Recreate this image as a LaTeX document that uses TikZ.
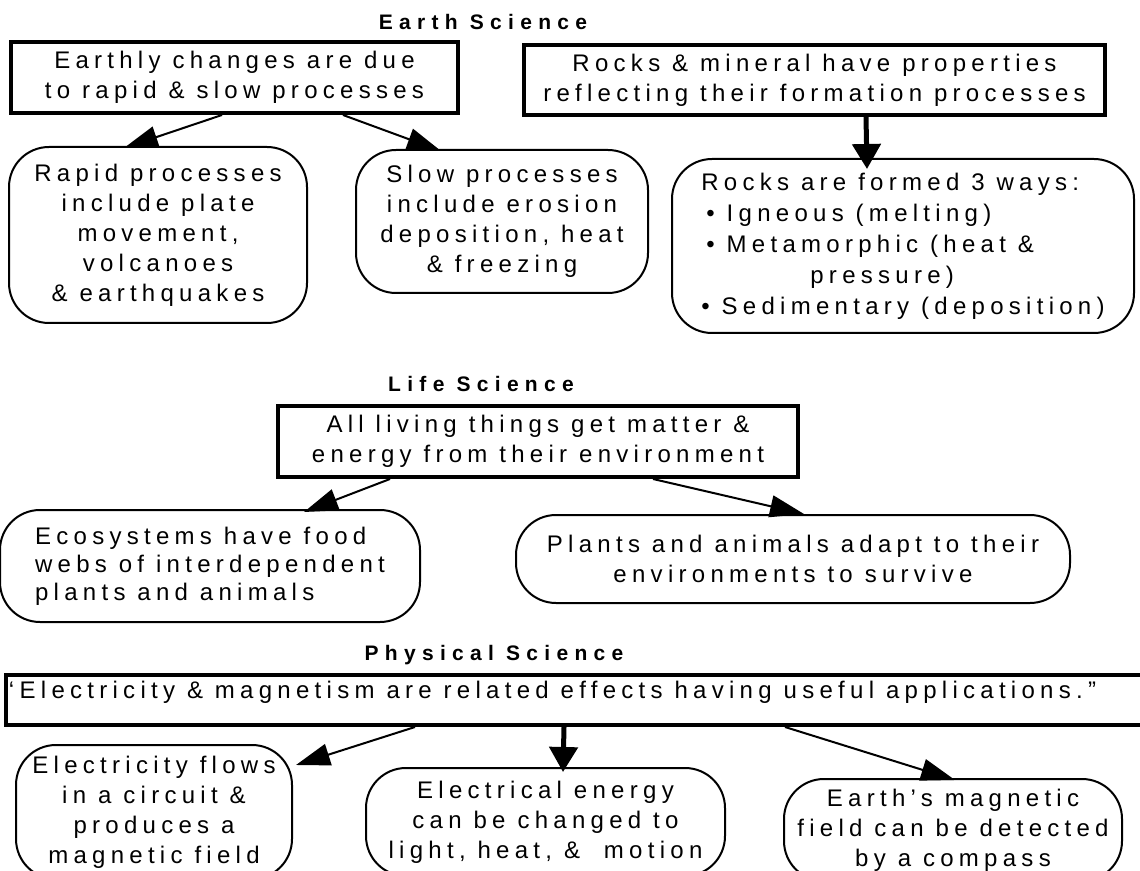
\documentclass[tikz,border=0pt]{standalone}
\usepackage{fontspec}
\setmainfont{Liberation Sans}[LetterSpace=22]
\usetikzlibrary{arrows.meta,calc}

\begin{document}
\begin{tikzpicture}
  [x=0.5pt,y=-0.5pt,
   topic/.style={font=\fontsize{10.5}{12}\selectfont\bfseries\addfontfeature{LetterSpace=30}},
   claim/.style={rectangle,draw,line width=2pt,fill=white,align=center,
                 inner sep=0pt,font=\fontsize{12}{15}\selectfont},
   fact/.style={rectangle,draw,line width=1pt,rounded corners=20pt,fill=white,
                align=center,inner sep=0pt,font=\fontsize{12}{15}\selectfont},
   link/.style={line width=1pt,-{Triangle[length=17pt,width=11pt]}},
   mainlink/.style={line width=2.5pt,-{Triangle[length=12.5pt,width=14pt]}}]
  \clip (0,0) rectangle (1140,871);
  % earth science
  \node[topic] (earth) at (483,22) {Earth Science};
  \node[claim,minimum width=223.5pt,minimum height=35.5pt] (changes) at (234.5,77.5)
    {Earthly changes are due\\to rapid \& slow processes};
  \node[claim,minimum width=290.5pt,minimum height=35pt] (minerals) at (814.5,80)
    {Rocks \& mineral have properties\\reflecting their formation processes};
  \node[fact,minimum width=149pt,minimum height=88pt] (rapid) at (158,235)
    {Rapid processes\\include plate\\movement,\\volcanoes\\\& earthquakes};
  \node[fact,minimum width=146pt,minimum height=71.5pt] (slow) at (502,221.5)
    {Slow processes\\include erosion\\deposition, heat\\\& freezing};
  \node[fact,minimum width=231pt,minimum height=87pt,align=left,
        font=\fontsize{12}{15.5}\selectfont] (rocks) at (903,246)
    {Rocks are formed 3 ways:\\
     \hspace*{2.5pt}•~Igneous (melting)\\
     \hspace*{2.5pt}•~Metamorphic (heat \&\\
     \hspace*{54.5pt}pressure)\\
     • Sedimentary (deposition)};
  \draw[link] ($(changes.south west)+(213,0)$) -- ($(rapid.north west)+(116,2)$);
  \draw[link] ($(changes.south west)+(334,0)$) -- ($(slow.north west)+(86,2)$);
  \draw[mainlink] ($(minerals.south west)+(344,0)$) -- ($(rocks.north west)+(196,11)$);
  % life science
  \node[topic] (life) at (481,384) {Life Science};
  \node[claim,minimum width=260pt,minimum height=35.5pt] (living) at (538,441.5)
    {All living things get matter \&\\energy from their environment};
  \node[fact,minimum width=210pt,minimum height=56pt,align=left,
        font=\fontsize{12}{14}\selectfont] (food) at (210,566)
    {Ecosystems have food\\webs of interdependent\\plants and animals};
  \node[fact,minimum width=277pt,minimum height=44pt] (adapt) at (793,559)
    {Plants and animals adapt to their\\environments to survive};
  \draw[link] ($(living.south west)+(114,0)$) -- ($(food.north west)+(305,3)$);
  \draw[link] ($(living.south west)+(377,0)$) -- ($(adapt.north west)+(289,0)$);
  % physical science
  \node[topic] (physical) at (494,655) {Physical Science};
  \node[claim,anchor=west,minimum height=25pt,inner xsep=1.5pt,
        text height=8pt,text depth=10pt] (related) at (4,700)
    {‘Electricity \& magnetism are related effects having useful applications.”\hspace*{40pt}};
  \node[fact,minimum width=138pt,minimum height=67pt] (circuit) at (154,812)
    {Electricity flows\\in a circuit \&\\produces a\\magnetic field};
  \node[fact,minimum width=179.5pt,minimum height=54pt] (energy) at (545.5,822)
    {Electrical energy\\can be changed to\\light, heat, \& \ motion};
  \node[fact,minimum width=169pt,minimum height=51pt] (compass) at (953,830)
    {Earth’s magnetic\\field can be detected\\by a compass};
  \draw[link] ($(related.south west)+(411,0)$) -- ($(circuit.north west)+(281,21)$);
  \draw[mainlink] ($(related.south west)+(560,0)$) -- ($(energy.north west)+(198,5)$);
  \draw[link] ($(related.south west)+(781,0)$) -- ($(compass.north west)+(172,2)$);
\end{tikzpicture}
\end{document}
